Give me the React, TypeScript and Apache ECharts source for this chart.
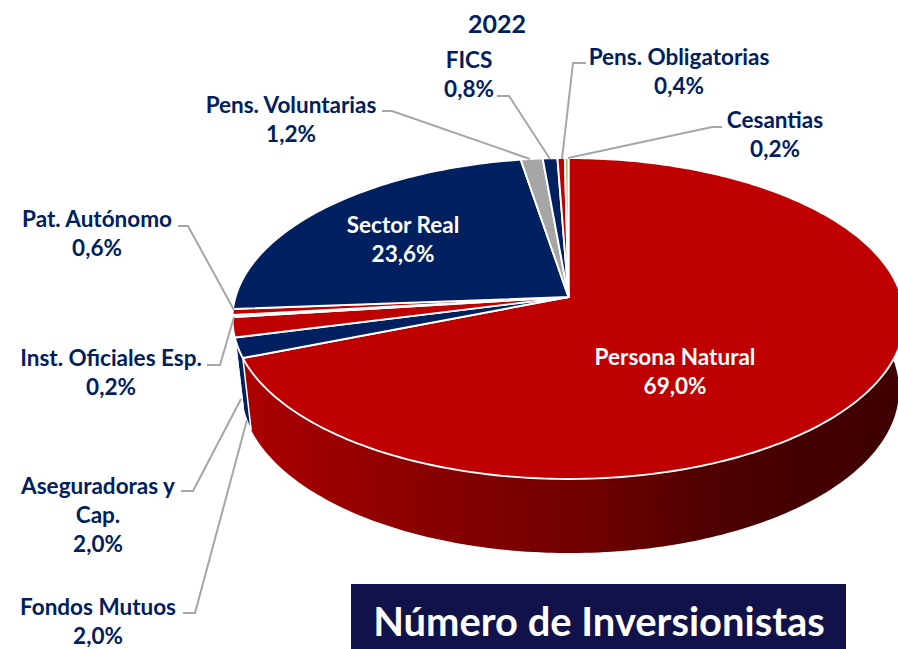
import React, { useEffect, useRef } from "react";
import * as echarts from "echarts";

const categories = [
  "Persona Natural", "Fondos Mutuos", "Aseguradoras y\nCap.", "Inst. Oficiales Esp.", "Pat. Autónomo",
  "Sector Real", "Pens. Voluntarias", "FICS", "Pens. Obligatorias", "Cesantias",
];
const shares = [69.0, 2.0, 2.0, 0.2, 0.6, 23.6, 1.2, 0.8, 0.4, 0.2];
const colors = ["#BE0000", "#002060", "#BE0000", "#002060", "#BE0000", "#002060", "#A6A6A6", "#002060", "#BE0000", "#C9B050"];
const titleText = "2022";
const boxText = "Número de Inversionistas";

// layout (pixels), separate from the data
const labelCentres: [number, number][] = [
  [675, 371], [98, 621], [98, 514], [111, 372], [97, 233], [403, 239], [291, 119], [469, 74], [679, 71], [775, 134],
];
const leaders: [number, number][][] = [
  [],
  [[183, 613], [195, 613], [247, 420]],
  [[181, 491], [193, 491], [241, 399]],
  [[207, 365], [220, 365], [234, 317]],
  [[178, 226], [188, 226], [234, 310]],
  [],
  [[382, 111], [392, 111], [530, 159]],
  [[497, 96], [509, 96], [550, 159]],
  [[586, 63], [573, 63], [562, 159]],
  [[722, 127], [712, 127], [568, 158]],
];
const insideLabels = [0, 5];
const FONT = "Lato, Carlito, sans-serif";
const NAVY = "#002060";
const CX = 568.5;
const APEX_Y = 297;
const K = -0.134;
const A_Y = 117.8;
const A_X = 333;
const ELL_CY = 318.5;
const DEPTH_CX = 570;
const DEPTH_CY = 390;
const DEPTH_SX = 0.979;
const DEPTH_SY = 1.016;

const topPoint = (deg: number): [number, number] => {
  const t = (deg * Math.PI) / 180;
  const v = -Math.cos(t);
  const d = 1 + K * v;
  return [CX + (A_X * Math.sin(t)) / d, (APEX_Y + A_Y * v) / d];
};
const bottomPoint = (deg: number): [number, number] => {
  const [x, y] = topPoint(deg);
  return [DEPTH_CX + (x - CX) * DEPTH_SX, DEPTH_CY + (y - ELL_CY) * DEPTH_SY];
};
const total = shares.reduce((a, b) => a + b, 0);
const startDeg = (i: number) => (shares.slice(0, i).reduce((a, b) => a + b, 0) / total) * 360;
const endDeg = (i: number) => startDeg(i) + (shares[i] / total) * 360;
const arc = (f: (d: number) => [number, number], a: number, b: number) => {
  const n = Math.max(2, Math.ceil(Math.abs(b - a)));
  const pts: [number, number][] = [];
  for (let i = 0; i <= n; i++) pts.push(f(a + ((b - a) * i) / n));
  return pts;
};
const WALL_FROM = 60;
const WALL_TO = 256;

const pct = (v: number) => v.toFixed(1).replace(".", ",") + "%";

export default function App() {
  const ref = useRef<HTMLDivElement>(null);
  useEffect(() => {
    document.body.style.margin = "0";
    const chart = echarts.init(ref.current!, undefined, { renderer: "svg" });
    const seriesData = shares.map((v, i) => ({ name: categories[i], value: v }));
    const wallFill = new echarts.graphic.LinearGradient(0, 0, 1, 0, [
      { offset: 0, color: "#AC0000" },
      { offset: 0.25, color: "#8C0000" },
      { offset: 0.54, color: "#6E0000" },
      { offset: 0.69, color: "#520000" },
      { offset: 0.84, color: "#440000" },
      { offset: 1, color: "#400000" },
    ]);
    chart.setOption({
      animation: false,
      backgroundColor: "#FFFFFF",
      series: [
        {
          type: "custom",
          coordinateSystem: "none",
          data: seriesData,
          z: 1,
          silent: true,
          renderItem: (params: any) => {
            const i = params.dataIndex;
            const a = Math.max(startDeg(i), WALL_FROM);
            const b = Math.min(endDeg(i), WALL_TO);
            if (b <= a) return { type: "group", children: [] };
            const pts = [...arc(topPoint, a, b), ...arc(bottomPoint, b, a)];
            return {
              type: "polygon",
              shape: { points: pts },
              style: {
                fill: i === 0 ? wallFill : colors[i],
                stroke: i === 0 ? null : "#FFFFFF",
                lineWidth: i === 0 ? 0 : 1.5,
              },
            };
          },
        },
        {
          type: "custom",
          coordinateSystem: "none",
          data: seriesData,
          z: 2,
          silent: true,
          renderItem: (params: any) => {
            const i = params.dataIndex;
            const pts = [[CX, APEX_Y], ...arc(topPoint, startDeg(i), endDeg(i))];
            return {
              type: "polygon",
              shape: { points: pts },
              style: { fill: colors[i], stroke: "#FFFFFF", lineWidth: 1.9, lineJoin: "round" },
            };
          },
        },
        {
          type: "custom",
          coordinateSystem: "none",
          data: seriesData,
          z: 3,
          silent: true,
          renderItem: (params: any) => {
            const i = params.dataIndex;
            const [x, y] = labelCentres[i];
            const inside = insideLabels.includes(i);
            const children: any[] = [];
            if (leaders[i].length) {
              children.push({
                type: "polyline",
                shape: { points: leaders[i] },
                style: { stroke: "#A6A6A6", lineWidth: 2, fill: null },
              });
            }
            children.push({
              type: "text",
              x,
              y,
              style: {
                text: categories[i] + "\n" + pct(shares[i]),
                fill: inside ? "#FFFFFF" : NAVY,
                font: `bold 22.5px ${FONT}`,
                lineHeight: 29,
                align: "center",
                verticalAlign: "middle",
              },
            });
            return { type: "group", children };
          },
        },
      ],
      graphic: [
        {
          type: "text",
          x: 497,
          y: 23,
          z: 5,
          style: { text: titleText, fill: NAVY, font: `bold 25px ${FONT}`, align: "center", verticalAlign: "middle" },
        },
        {
          type: "rect",
          z: 5,
          shape: { x: 351, y: 584, width: 495, height: 65 },
          style: { fill: "#11124A" },
        },
        {
          type: "text",
          x: 599,
          y: 620,
          z: 6,
          style: { text: boxText, fill: "#FFFFFF", font: `bold 39.9px ${FONT}`, align: "center", verticalAlign: "middle" },
        },
      ],
    });
    return () => chart.dispose();
  }, []);
  return <div ref={ref} style={{ position: "fixed", left: 0, top: 0, width: 898, height: 649 }} />;
}
